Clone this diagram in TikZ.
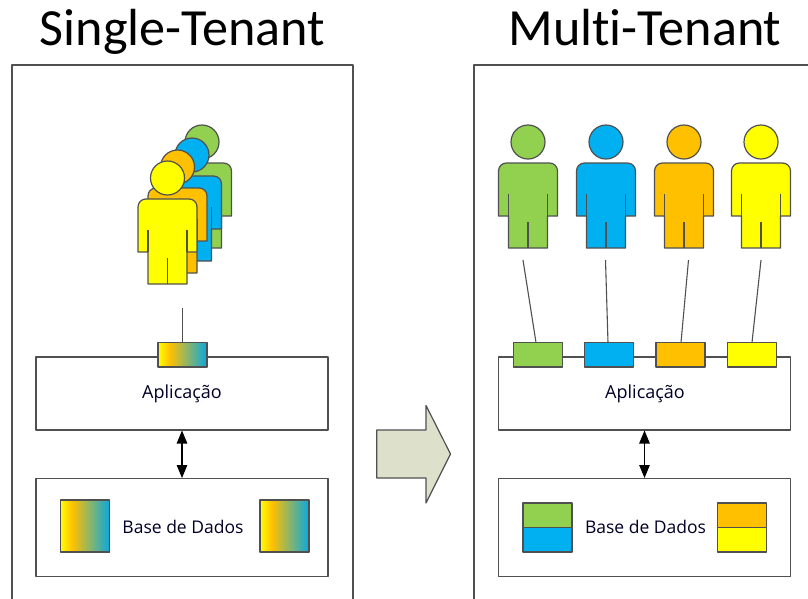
\documentclass[tikz,border=0pt]{standalone}
\usepackage{fontspec}
\setmainfont{Open Sans}
\newfontfamily\titlefont[Ligatures=NoCommon]{Carlito}
\usetikzlibrary{arrows.meta}
\definecolor{pgreen}{HTML}{92D050}
\definecolor{pblue}{HTML}{00B0F0}
\definecolor{porange}{HTML}{FFC000}
\definecolor{pyellow}{HTML}{FFFF00}
\definecolor{linegray}{HTML}{505050}
\definecolor{bigarrow}{HTML}{DDE1CC}
\definecolor{gradend}{HTML}{08A8E0}
\pgfdeclarehorizontalshading{mixgrad}{100bp}{color(0bp)=(pyellow); color(25bp)=(pyellow); color(37bp)=(porange); color(75bp)=(gradend); color(100bp)=(gradend)}
\tikzset{
  x=1pt,y=-1pt,
  every node/.style={inner sep=0pt,outer sep=0pt},
  outline/.style={draw=linegray,line width=1.2pt,line join=round},
  titletext/.style={font=\titlefont\fontsize{52.2}{56}\selectfont,text=black,anchor=base},
  labeltext/.style={font=\fontsize{18}{20}\selectfont,text=black!85!blue},
  dblabel/.style={font=\fontsize{17.5}{20}\selectfont,text=black!85!blue},
  layerbox/.style={outline,fill=white,minimum width=292pt,anchor=north west},
  appbox/.style={layerbox,minimum height=73pt},
  dbbox/.style={layerbox,minimum height=98pt},
  portbox/.style={outline,minimum width=49pt,minimum height=24.5pt,anchor=north west},
  storebox/.style={outline,minimum width=49pt,minimum height=24.5pt,anchor=north west},
  storemix/.style={outline,shading=mixgrad,minimum width=49pt,minimum height=52pt,anchor=north west},
  link/.style={draw=linegray,line width=1.1pt},
  biarrow/.style={draw=black,line width=1.1pt,{Triangle[length=13pt,width=10.5pt]}-{Triangle[length=13pt,width=10.5pt]},shorten <=0.5pt,shorten >=0.5pt},
  pics/person/.style={code={
    \draw[outline,fill=#1]
      (-29.5,29) .. controls (-29.5,24.5) and (-26,21) .. (-21.5,21)
      -- (21.5,21) .. controls (26,21) and (29.5,24.5) .. (29.5,29)
      -- (29.5,74) -- (19.5,74) -- (19.5,106)
      -- (-19.5,106) -- (-19.5,74) -- (-29.5,74) -- cycle;
    \draw[outline] (-19.5,51.5) -- (-19.5,74) (19.5,51.5) -- (19.5,74) (0,80) -- (0,106);
    \node[outline,circle,fill=#1,minimum size=34pt] (-head) at (0,0) {};
  }}
}
\begin{document}
\begin{tikzpicture}
\useasboundingbox (0,0) rectangle (808,598);
\clip (0,0) rectangle (808,598);
\fill[white] (0,0) rectangle (808,598);

% titles
\node[titletext] (t1) at (182.5,45) {Single-Tenant};
\node[titletext] (t2) at (645,45) {Multi-Tenant};

% frames
\draw[outline] (12,600) -- (12,65) -- (353,65) -- (353,600);
\draw[outline] (474,600) -- (474,65) -- (810,65);

% single tenant people
\pic (sg) at (202,142) {person=pgreen};
\pic (sb) at (192,155) {person=pblue};
\pic (so) at (177.5,167) {person=porange};
\pic (sy) at (167.5,178) {person=pyellow};

% single tenant stack
\node[appbox] (sapp) at (36,357) {};
\node[labeltext] at (182,394) {Aplicação};
\node[dbbox] (sdb) at (36,478.5) {};
\node[dblabel] at (183,527) {Base de Dados};
\node[portbox,shading=mixgrad] (sport) at (158,342.5) {};
\coordinate (sfree) at (182.5,308);
\draw[link] (sfree) -- (sport.north);
\draw[biarrow] (sapp.south) -- (sdb.north);
\node[storemix] (sd1) at (60.5,500) {};
\node[storemix] (sd2) at (260,500) {};

% big arrow
\draw[outline,fill=bigarrow] (376.7,430) -- (426,430) -- (426,405.5) -- (450.5,454) -- (426,503) -- (426,478) -- (376.7,478) -- cycle;

% multi tenant people
\pic (mg) at (528,142) {person=pgreen};
\pic (mb) at (606,142) {person=pblue};
\pic (mo) at (684,142) {person=porange};
\pic (my) at (761,142) {person=pyellow};

% multi tenant stack
\node[appbox] (mapp) at (498.5,357) {};
\node[labeltext] at (645,394) {Aplicação};
\node[dbbox] (mdb) at (498.5,478.5) {};
\node[dblabel] at (645.5,527) {Base de Dados};
\node[portbox,fill=pgreen] (mp1) at (513.5,342.5) {};
\node[portbox,fill=pblue] (mp2) at (584.5,342.5) {};
\node[portbox,fill=porange] (mp3) at (656,342.5) {};
\node[portbox,fill=pyellow] (mp4) at (727.5,342.5) {};
\coordinate (mf1) at (523,260);
\coordinate (mf2) at (605.5,260);
\coordinate (mf3) at (688.5,260);
\coordinate (mf4) at (761,260);
\coordinate (mt1) at (536,342.5);
\coordinate (mt2) at (608,342.5);
\coordinate (mt3) at (681,342.5);
\coordinate (mt4) at (752,342.5);
\draw[link] (mf1) -- (mt1);
\draw[link] (mf2) -- (mt2);
\draw[link] (mf3) -- (mt3);
\draw[link] (mf4) -- (mt4);
\draw[biarrow] (mapp.south) -- (mdb.north);
\node[storebox,fill=pgreen] (md1a) at (523,503) {};
\node[storebox,fill=pblue] (md1b) at (523,527.5) {};
\node[storebox,fill=porange] (md2a) at (717.5,503) {};
\node[storebox,fill=pyellow] (md2b) at (717.5,527.5) {};
\end{tikzpicture}
\end{document}
